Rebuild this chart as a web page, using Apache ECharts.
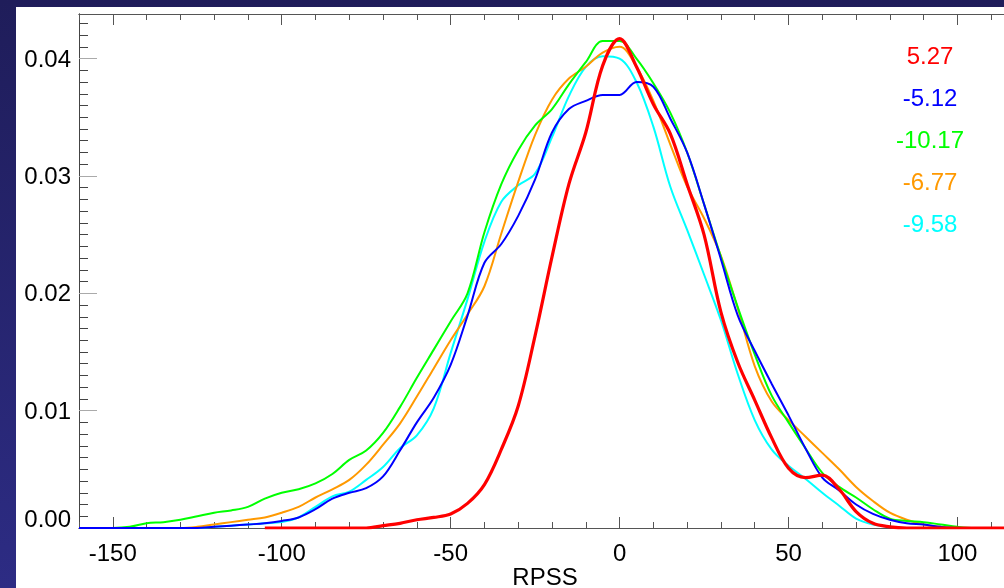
<!DOCTYPE html>
<html>
<head>
<meta charset="utf-8">
<script src="https://cdn.jsdelivr.net/npm/echarts@6/dist/echarts.min.js"></script>
<style>
  html, body { margin: 0; padding: 0; }
  body {
    width: 1004px; height: 588px; overflow: hidden;
    background: linear-gradient(to bottom, #1f1d5a, #2d2c84);
    position: relative;
  }
  #main {
    position: absolute; left: 16px; top: 7px;
    width: 1009px; height: 581px; background: #fff;
  }
</style>
</head>
<body>
<div id="main"></div>
<script>
// RPSS values, one sample every 5 units
const rpss = [
  -160, -155, -150, -145, -140, -135, -130, -125, -120, -115,
  -110, -105, -100, -95, -90, -85, -80, -75, -70, -65,
  -60, -55, -50, -45, -40, -35, -30, -25, -20, -15,
  -10, -5, 0, 5, 10, 15, 20, 25, 30, 35,
  40, 45, 50, 55, 60, 65, 70, 75, 80, 85,
  90, 95, 100, 105, 110, 115, 120
]

const redPdf = [
  null, null, null, null, null, null, null, null, null, null,
  null, 0, 0, 0, 0, 0, 0, 0, 0.0002, 0.0004,
  0.0007, 0.0009, 0.0012, 0.0021, 0.0037, 0.0067, 0.0104, 0.0164, 0.0231, 0.0293,
  0.0337, 0.0394, 0.0417, 0.0393, 0.0361, 0.0336, 0.0293, 0.0250, 0.0184, 0.0141,
  0.0109, 0.0077, 0.0051, 0.0043, 0.0045, 0.0033, 0.0014, 0.0004, 0.0001, 0,
  0, 0, 0, 0, 0, 0, 0
]

const bluePdf = [
  0, 0, 0, 0, 0, 0, 0, 0, 0.0001, 0.0002,
  0.0003, 0.0004, 0.0006, 0.0009, 0.0016, 0.0025, 0.0030, 0.0034, 0.0044, 0.0066,
  0.0090, 0.0111, 0.0139, 0.0181, 0.0226, 0.0242, 0.0266, 0.0297, 0.0337, 0.0357,
  0.0364, 0.0369, 0.0369, 0.0380, 0.0376, 0.0349, 0.0320, 0.0276, 0.0229, 0.0181,
  0.0151, 0.0123, 0.0096, 0.0068, 0.0043, 0.0032, 0.0020, 0.0012, 0.0007, 0.0004,
  0.0003, 0.0001, 0, 0, 0, 0, 0
]

const greenPdf = [
  0, 0, 0, 0.0001, 0.0004, 0.0005, 0.0007, 0.0010, 0.0013, 0.0015,
  0.0018, 0.0025, 0.0030, 0.0033, 0.0038, 0.0046, 0.0058, 0.0066, 0.0081, 0.0103,
  0.0128, 0.0152, 0.0176, 0.0200, 0.0252, 0.0293, 0.0322, 0.0343, 0.0357, 0.0378,
  0.0397, 0.0415, 0.0415, 0.0400, 0.0379, 0.0354, 0.0320, 0.0276, 0.0231, 0.0188,
  0.0148, 0.0113, 0.0090, 0.0068, 0.0047, 0.0035, 0.0026, 0.0016, 0.0008, 0.0006,
  0.0005, 0.0003, 0.0001, 0, 0, 0, 0
]

const orangePdf = [
  0, 0, 0, 0, 0, 0, 0, 0.0001, 0.0003, 0.0005,
  0.0007, 0.0009, 0.0013, 0.0018, 0.0026, 0.0033, 0.0041, 0.0054, 0.0071, 0.0089,
  0.0112, 0.0136, 0.0160, 0.0182, 0.0206, 0.0251, 0.0295, 0.0335, 0.0365, 0.0383,
  0.0393, 0.0405, 0.0410, 0.0393, 0.0364, 0.0327, 0.0291, 0.0264, 0.0232, 0.0187,
  0.0138, 0.0108, 0.0092, 0.0078, 0.0064, 0.0050, 0.0035, 0.0023, 0.0013, 0.0007,
  0.0003, 0.0001, 0, 0, 0, 0, 0
]

const cyanPdf = [
  0, 0, 0, 0, 0, 0, 0, 0, 0.0001, 0.0002,
  0.0003, 0.0004, 0.0005, 0.0009, 0.0018, 0.0027, 0.0031, 0.0041, 0.0052, 0.0068,
  0.0079, 0.0102, 0.0149, 0.0195, 0.0244, 0.0278, 0.0292, 0.0302, 0.0333, 0.0368,
  0.0393, 0.0402, 0.0400, 0.0380, 0.0342, 0.0291, 0.0254, 0.0216, 0.0177, 0.0131,
  0.0092, 0.0067, 0.0053, 0.0042, 0.0030, 0.0019, 0.0008, 0.0003, 0.0001, 0,
  0, 0, 0, 0, 0, 0, 0
]

// mean RPSS printed at the upper right
const meanLabels = ['5.27', '-5.12', '-10.17', '-6.77', '-9.58']
const lineColors = ['#ff0000', '#0000ff', '#00ff00', '#ff9900', '#00ffff']
const xTitle = 'RPSS'

const xMajorTicks = [-150, -100, -50, 0, 50, 100]
const yMajorTicks = [0, 0.01, 0.02, 0.03, 0.04]

const X_MIN = -160
const X_MAX = 120
const Y_MIN = 0
const Y_MAX = 0.0438

const xMinorTicks = []
for (let v = X_MIN; v <= X_MAX; v += 10) {
  if (xMajorTicks.indexOf(v) < 0) xMinorTicks.push(v)
}
const yMinorTicks = []
for (let k = 0; k <= 43; k++) {
  if (k % 10 !== 0) yMinorTicks.push(+(k * 0.001).toFixed(3))
}

const FONT = '"Liberation Sans", Arial, sans-serif'
const chart = echarts.init(document.getElementById('main'))

const toPairs = ys => rpss.map((x, i) => [x, ys[i]])

// helper axes (hidden) whose zero sits on one edge of the grid,
// so the framing axes can be pinned to an edge through onZero
const LOW_EDGE = 4
const HIGH_EDGE = 5
const edgeAxis = (lo, hi) => ({ type: 'value', min: lo, max: hi, show: false })

const xAxisBase = (position, ticks, len, withLabel, edge) => ({
  type: 'value',
  position: position,
  min: X_MIN,
  max: X_MAX,
  axisLine: { show: true, onZero: true, onZeroAxisIndex: edge, lineStyle: { color: '#555', width: 1 } },
  splitLine: { show: false },
  axisTick: {
    show: true,
    inside: true,
    length: len,
    customValues: ticks,
    lineStyle: { color: '#555', width: 1 }
  },
  axisLabel: withLabel ? {
    show: true,
    customValues: ticks,
    margin: 14,
    color: '#000',
    fontSize: 24,
    fontFamily: FONT
  } : { show: false }
})

const yAxisBase = (position, ticks, len, withLabel, tickColor, edge) => ({
  type: 'value',
  position: position,
  min: Y_MIN,
  max: Y_MAX,
  axisLine: { show: true, onZero: true, onZeroAxisIndex: edge, lineStyle: { color: '#444', width: 1 } },
  splitLine: { show: false },
  axisTick: {
    show: true,
    inside: true,
    length: len,
    customValues: ticks,
    lineStyle: { color: tickColor, width: 1 }
  },
  axisLabel: withLabel ? {
    show: true,
    customValues: ticks,
    margin: 8,
    color: '#000',
    fontSize: 24,
    fontFamily: FONT,
    formatter: v => v === 0 ? '{low|' + v.toFixed(2) + '}' : '{std|' + v.toFixed(2) + '}',
    rich: {
      low: { fontSize: 24, fontFamily: FONT, color: '#000', padding: [0, 0, 16, 0] },
      std: { fontSize: 24, fontFamily: FONT, color: '#000', padding: [3, 0, 0, 0] }
    }
  } : { show: false }
})

const xAxes = [
  xAxisBase('bottom', xMajorTicks, 11, true, LOW_EDGE),
  xAxisBase('bottom', xMinorTicks, 6, false, LOW_EDGE),
  xAxisBase('top', xMajorTicks, 11, false, HIGH_EDGE),
  xAxisBase('top', xMinorTicks, 6, false, HIGH_EDGE),
  edgeAxis(0, 1),
  edgeAxis(-1, 0)
]

const yAxes = [
  yAxisBase('left', yMajorTicks, 18, true, '#aaa', LOW_EDGE),
  yAxisBase('left', yMinorTicks, 9, false, '#444', LOW_EDGE),
  yAxisBase('right', yMajorTicks, 18, false, '#aaa', HIGH_EDGE),
  yAxisBase('right', yMinorTicks, 9, false, '#444', HIGH_EDGE),
  edgeAxis(0, 1),
  edgeAxis(-1, 0)
]

const pdfs = [
  { name: 'cyan', data: cyanPdf, color: lineColors[4], width: 2 },
  { name: 'orange', data: orangePdf, color: lineColors[3], width: 2 },
  { name: 'green', data: greenPdf, color: lineColors[2], width: 2 },
  { name: 'blue', data: bluePdf, color: lineColors[1], width: 2 },
  { name: 'red', data: redPdf, color: lineColors[0], width: 3.2 }
]

const LABEL_X = 914
const LABEL_TOP = 50
const LABEL_STEP = 42

const textEl = (txt, x, y, color) => ({
  type: 'text',
  x: x,
  y: y,
  z: 10,
  style: {
    text: txt,
    fill: color,
    fontSize: 24,
    fontFamily: FONT,
    textAlign: 'center',
    textVerticalAlign: 'middle'
  }
})

chart.setOption({
  animation: false,
  grid: { left: 63, top: 7, right: 0, bottom: 60, containLabel: false, outerBoundsMode: 'none' },
  xAxis: xAxes,
  yAxis: yAxes,
  series: pdfs.map(p => ({
    type: 'line',
    name: p.name,
    xAxisIndex: 0,
    yAxisIndex: 0,
    data: toPairs(p.data),
    smooth: 0.35,
    showSymbol: false,
    connectNulls: false,
    lineStyle: { color: p.color, width: p.width }
  })),
  graphic: meanLabels
    .map((txt, i) => textEl(txt, LABEL_X, LABEL_TOP + i * LABEL_STEP, lineColors[i]))
    .concat([textEl(xTitle, 529, 571, '#000')])
})
</script>
</body>
</html>
